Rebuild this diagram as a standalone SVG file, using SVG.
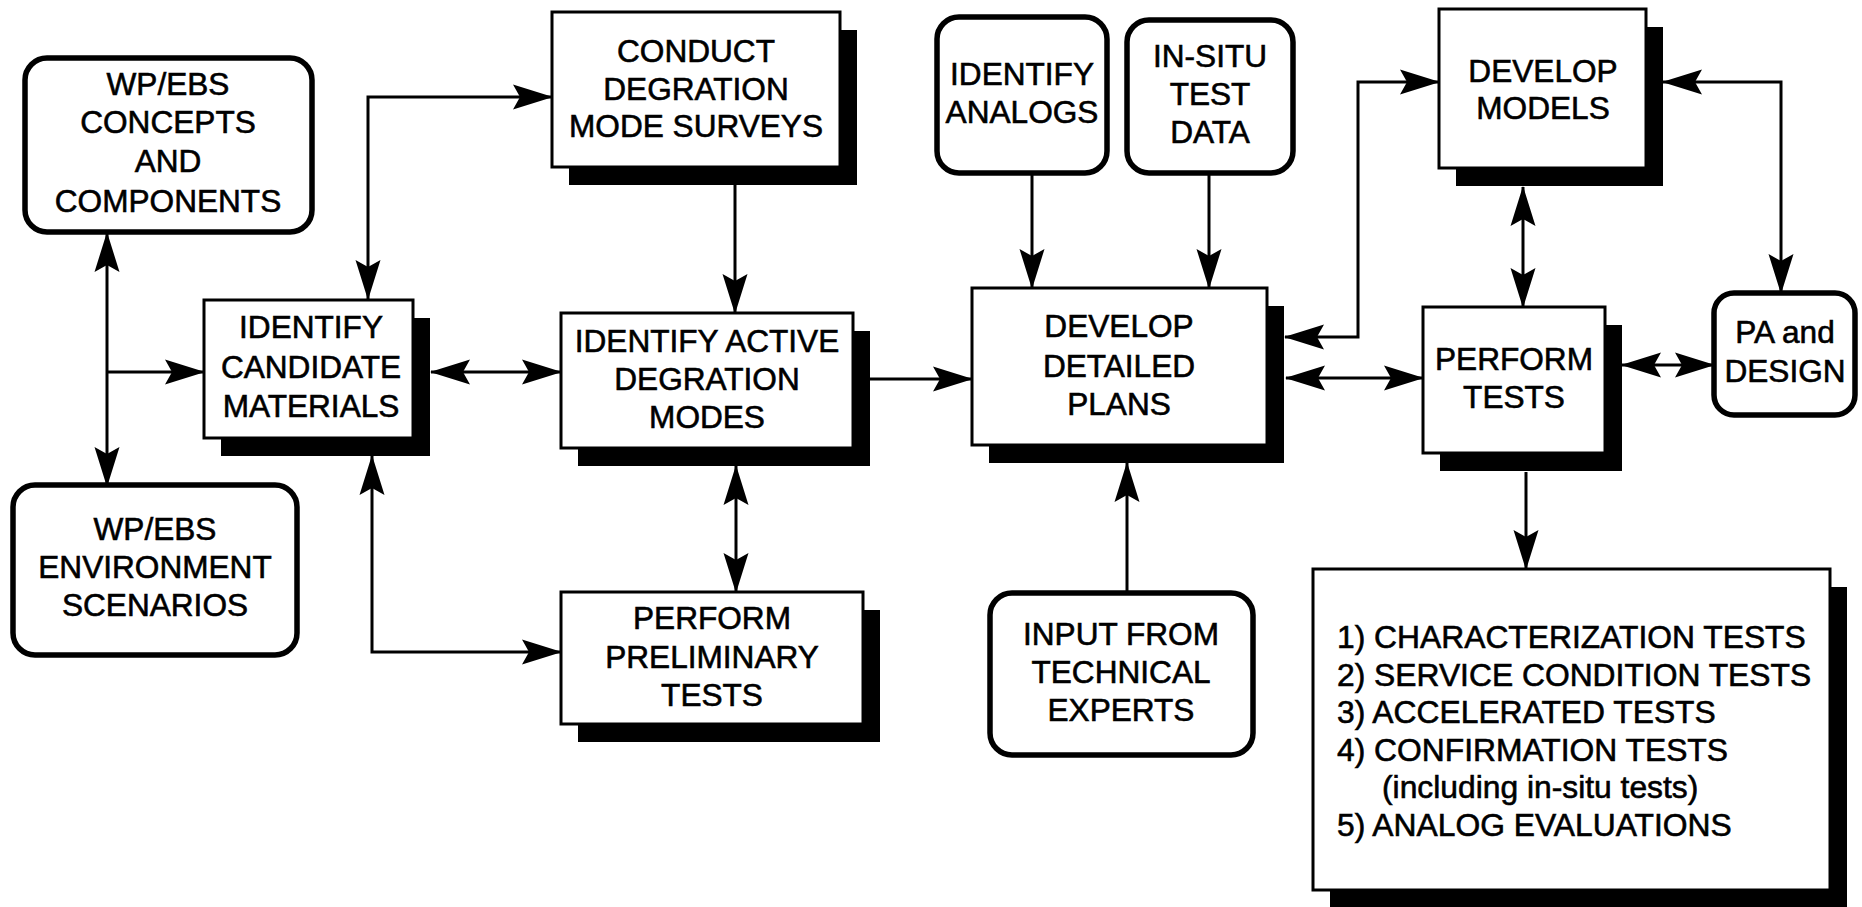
<svg xmlns="http://www.w3.org/2000/svg" width="1862" height="907" viewBox="0 0 1862 907">
  <style>
    .box { fill: #fff; stroke: #000; stroke-width: 3; }
    .rbox { fill: #fff; stroke: #000; stroke-width: 5.5; }
    .shadow { fill: #000; }
    .lbl { font-family: "Liberation Sans", Arial, Helvetica, sans-serif; font-size: 31.6px; fill: #000; stroke: #000; stroke-width: 0.6; text-anchor: middle; }
    .lst { font-family: "Liberation Sans", Arial, Helvetica, sans-serif; font-size: 31.8px; fill: #000; stroke: #000; stroke-width: 0.6; }
    .wire { fill: none; stroke: #000; stroke-width: 3; }
    .one { marker-end: url(#ah); }
    .two { marker-start: url(#ah); marker-end: url(#ah); }
  </style>
  <defs>
    <marker id="ah" viewBox="-39 -13 40 26" refX="0" refY="0" markerWidth="40" markerHeight="26" markerUnits="userSpaceOnUse" orient="auto-start-reverse">
      <path d="M1,0 L-39,-12.5 L-32,0 L-39,12.5 Z" fill="#000"/>
    </marker>
  </defs>
  <rect width="1862" height="907" fill="#fff"/>

  <!-- connectors -->
  <g id="connectors">
    <path class="wire two" d="M107,233 V486"/>
    <path class="wire one" d="M107,372 H204"/>
    <path class="wire two" d="M368,299 V97 H552"/>
    <path class="wire two" d="M431,372 H561"/>
    <path class="wire two" d="M372,456 V652 H561"/>
    <path class="wire one" d="M735,185 V313"/>
    <path class="wire two" d="M736,466 V592"/>
    <path class="wire one" d="M870,379 H972"/>
    <path class="wire one" d="M1032,173 V288"/>
    <path class="wire one" d="M1209,173 V288"/>
    <path class="wire one" d="M1127,593 V463"/>
    <path class="wire two" d="M1285,337 H1358 V82 H1439"/>
    <path class="wire two" d="M1286,378 H1423"/>
    <path class="wire two" d="M1523,187 V307"/>
    <path class="wire two" d="M1663,82 H1781 V293"/>
    <path class="wire two" d="M1622,365 H1714"/>
    <path class="wire one" d="M1526,472 V569"/>
  </g>

  <!-- inputs (rounded boxes) -->
  <g id="concepts">
    <rect class="rbox" x="25" y="58" width="287" height="174" rx="22"/>
    <text class="lbl" x="168" y="95">WP/EBS</text>
    <text class="lbl" x="168" y="133">CONCEPTS</text>
    <text class="lbl" x="168" y="172">AND</text>
    <text class="lbl" x="168" y="212">COMPONENTS</text>
  </g>
  <g id="environment">
    <rect class="rbox" x="13" y="485" width="284" height="170" rx="22"/>
    <text class="lbl" x="155" y="540">WP/EBS</text>
    <text class="lbl" x="155" y="578">ENVIRONMENT</text>
    <text class="lbl" x="155" y="616">SCENARIOS</text>
  </g>
  <g id="analogs">
    <rect class="rbox" x="937" y="17" width="170" height="156" rx="22"/>
    <text class="lbl" x="1022" y="85">IDENTIFY</text>
    <text class="lbl" x="1022" y="123">ANALOGS</text>
  </g>
  <g id="insitu">
    <rect class="rbox" x="1127" y="20" width="166" height="153" rx="22"/>
    <text class="lbl" x="1210" y="67">IN-SITU</text>
    <text class="lbl" x="1210" y="105">TEST</text>
    <text class="lbl" x="1210" y="143">DATA</text>
  </g>
  <g id="experts">
    <rect class="rbox" x="990" y="593" width="263" height="162" rx="22"/>
    <text class="lbl" x="1121" y="645">INPUT FROM</text>
    <text class="lbl" x="1121" y="683">TECHNICAL</text>
    <text class="lbl" x="1121" y="721">EXPERTS</text>
  </g>
  <g id="pa-design">
    <rect class="rbox" x="1714" y="293" width="141" height="122" rx="20"/>
    <text class="lbl" x="1785" y="343">PA and</text>
    <text class="lbl" x="1785" y="382">DESIGN</text>
  </g>

  <!-- process steps (shadowed boxes) -->
  <g id="candidate">
    <rect class="shadow" x="221" y="318" width="209" height="138"/>
    <rect class="box" x="204" y="300" width="209" height="138"/>
    <text class="lbl" x="311" y="338">IDENTIFY</text>
    <text class="lbl" x="311" y="378">CANDIDATE</text>
    <text class="lbl" x="311" y="417">MATERIALS</text>
  </g>
  <g id="conduct">
    <rect class="shadow" x="569" y="30" width="288" height="155"/>
    <rect class="box" x="552" y="12" width="288" height="155"/>
    <text class="lbl" x="696" y="62">CONDUCT</text>
    <text class="lbl" x="696" y="100">DEGRATION</text>
    <text class="lbl" x="696" y="137">MODE SURVEYS</text>
  </g>
  <g id="active">
    <rect class="shadow" x="578" y="331" width="292" height="135"/>
    <rect class="box" x="561" y="313" width="292" height="135"/>
    <text class="lbl" x="707" y="352">IDENTIFY ACTIVE</text>
    <text class="lbl" x="707" y="390">DEGRATION</text>
    <text class="lbl" x="707" y="428">MODES</text>
  </g>
  <g id="preliminary">
    <rect class="shadow" x="578" y="610" width="302" height="132"/>
    <rect class="box" x="561" y="592" width="302" height="132"/>
    <text class="lbl" x="712" y="629">PERFORM</text>
    <text class="lbl" x="712" y="668">PRELIMINARY</text>
    <text class="lbl" x="712" y="706">TESTS</text>
  </g>
  <g id="plans">
    <rect class="shadow" x="989" y="306" width="295" height="157"/>
    <rect class="box" x="972" y="288" width="295" height="157"/>
    <text class="lbl" x="1119" y="337">DEVELOP</text>
    <text class="lbl" x="1119" y="377">DETAILED</text>
    <text class="lbl" x="1119" y="415">PLANS</text>
  </g>
  <g id="models">
    <rect class="shadow" x="1456" y="27" width="207" height="159"/>
    <rect class="box" x="1439" y="9" width="207" height="159"/>
    <text class="lbl" x="1543" y="82">DEVELOP</text>
    <text class="lbl" x="1543" y="119">MODELS</text>
  </g>
  <g id="perform">
    <rect class="shadow" x="1440" y="325" width="182" height="146"/>
    <rect class="box" x="1423" y="307" width="182" height="146"/>
    <text class="lbl" x="1514" y="370">PERFORM</text>
    <text class="lbl" x="1514" y="408">TESTS</text>
  </g>
  <g id="test-types">
    <rect class="shadow" x="1330" y="587" width="517" height="321"/>
    <rect class="box" x="1313" y="569" width="517" height="321"/>
    <text class="lst" x="1337" y="648">1) CHARACTERIZATION TESTS</text>
    <text class="lst" x="1337" y="686">2) SERVICE CONDITION TESTS</text>
    <text class="lst" x="1337" y="723">3) ACCELERATED TESTS</text>
    <text class="lst" x="1337" y="761">4) CONFIRMATION TESTS</text>
    <text class="lst" x="1382" y="798">(including in-situ tests)</text>
    <text class="lst" x="1337" y="836">5) ANALOG EVALUATIONS</text>
  </g>
</svg>
